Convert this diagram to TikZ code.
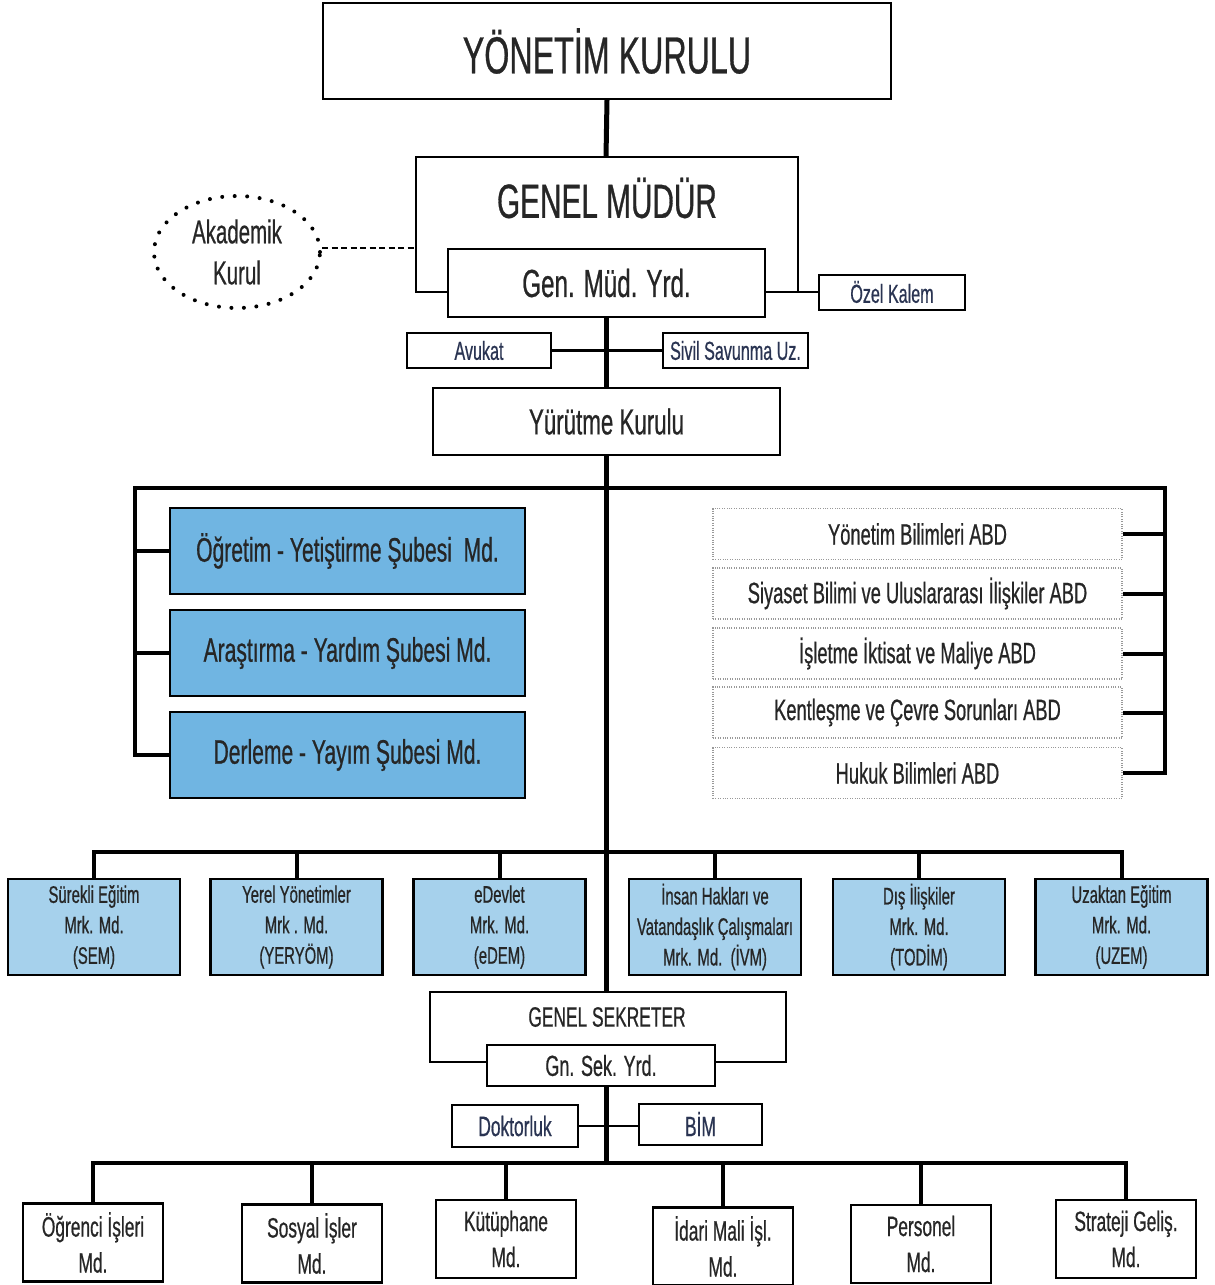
\documentclass[tikz,border=0pt]{standalone}
\usepackage{fontspec}
\setmainfont{Liberation Sans}[FakeStretch=0.62,FakeBold=0.6]
\usetikzlibrary{shapes.geometric}
\definecolor{bluedark}{RGB}{112,181,226}
\definecolor{bluelight}{RGB}{166,209,236}
\definecolor{txt}{RGB}{38,38,38}
\definecolor{navy}{RGB}{42,52,82}
\begin{document}
\begin{tikzpicture}[x=1pt,y=-1pt,
  box/.style={draw=black, line width=2pt, fill=white, inner sep=0pt, text=txt, align=center},
  small/.style={box, text=navy, font=\fontsize{26}{30}\selectfont},
  bluebox/.style={box, fill=bluedark, line width=2.2pt, font=\fontsize{34}{40}\selectfont, minimum width=355pt, minimum height=86pt},
  abd/.style={draw=gray!80, line width=1.1pt, dash pattern=on 1pt off 1.4pt, inner sep=0pt, text=txt, font=\fontsize{29.5}{34}\selectfont, minimum width=409pt, minimum height=51pt},
  midbox/.style={box, fill=bluelight, line width=2.4pt, font=\fontsize{24}{30.5}\selectfont, minimum width=172pt, minimum height=96pt},
  lowbox/.style={box, line width=2.4pt, font=\fontsize{28}{36}\selectfont, minimum width=140pt, minimum height=78pt},
  trunk/.style={line width=5pt},
  bus/.style={line width=4pt},
  link/.style={line width=2.5pt}]
\useasboundingbox (0,0) rectangle (1215,1285);

% top
\node[box, minimum width=568pt, minimum height=96pt, font=\fontsize{52}{60}\selectfont] (yk) at (607,51) {YÖNETİM KURULU};
\node[text=txt, font=\fontsize{48}{56}\selectfont] (gm) at (607,198) {GENEL MÜDÜR};
\node[box, minimum width=317pt, minimum height=68pt, font=\fontsize{39}{44}\selectfont] (gmy) at (606.5,283) {Gen. Müd. Yrd.};
\node[small, minimum width=146pt, minimum height=35pt] (ozel) at (892,292) {Özel Kalem};
\node[ellipse, draw=black, line width=4pt, line cap=round, dash pattern=on 0pt off 12.5pt, minimum width=166pt, minimum height=112pt, text=txt, align=center, font=\fontsize{33}{41}\selectfont] (ak) at (237,252) {Akademik\\Kurul};
\node[small, minimum width=144pt, minimum height=35pt] (avukat) at (479,350.5) {Avukat};
\node[small, minimum width=145pt, minimum height=35pt] (sivil) at (735.5,350.5) {Sivil Savunma Uz.};
\node[box, minimum width=347pt, minimum height=67pt, font=\fontsize{36}{42}\selectfont] (yur) at (606.5,421.5) {Yürütme Kurulu};

\coordinate (g1) at (0,292);
\coordinate (gmtop) at (606,157);
\coordinate (dl) at (0,248);
\draw[trunk] (yk.south) -- (gmtop);
\draw[link] (gmy.west |- g1) -- (416,292) -- (416,157) -- (798,157) -- (798,292) -- (gmy.east |- g1);
\draw[link] (798,292) -- (ozel.west);
\draw[link, dash pattern=on 6pt off 3.5pt] (ak.east |- dl) -- (416,248);
\draw[trunk] (gmy.south -| gmtop) -- (yur.north -| gmtop);
\draw[link] (avukat.east) -- (sivil.west);

% left blue boxes
\node[bluebox] (b1) at (347.5,551) {Öğretim - Yetiştirme Şubesi\ \ Md.};
\node[bluebox] (b2) at (347.5,653) {Araştırma - Yardım Şubesi Md.};
\node[bluebox] (b3) at (347.5,755) {Derleme - Yayım Şubesi Md.};
% right ABD boxes
\node[abd] (a1) at (917.5,534) {Yönetim Bilimleri ABD};
\node[abd] (a2) at (917.5,593.5) {Siyaset Bilimi ve Uluslararası İlişkiler ABD};
\node[abd] (a3) at (917.5,653.5) {İşletme İktisat ve Maliye ABD};
\node[abd] (a4) at (917.5,712.5) {Kentleşme ve Çevre Sorunları ABD};
\node[abd] (a5) at (917.5,773) {Hukuk Bilimleri ABD};

\coordinate (bl) at (135,488);
\coordinate (br) at (1165,488);
\draw[bus] (b3.west) -| (bl) -- (br) |- (a5.east);
\draw[bus] (b1.west) -- (b1.west -| bl);
\draw[bus] (b2.west) -- (b2.west -| bl);
\draw[bus] (a1.east) -- (a1.east -| br);
\draw[bus] (a2.east) -- (a2.east -| br);
\draw[bus] (a3.east) -- (a3.east -| br);
\draw[bus] (a4.east) -- (a4.east -| br);

% middle row
\node[midbox] (m1) at (94,927) {Sürekli Eğitim\\Mrk. Md.\\(SEM)};
\node[midbox] (m2) at (296.5,927) {Yerel Yönetimler\\Mrk . Md.\\(YERYÖM)};
\node[midbox] (m3) at (499.5,927) {eDevlet\\Mrk. Md.\\(eDEM)};
\node[midbox] (m4) at (715,927) {İnsan Hakları ve\\Vatandaşlık Çalışmaları\\Mrk. Md.\ \ (İVM)};
\node[midbox] (m5) at (919,927) {Dış İlişkiler\\Mrk. Md.\\(TODİM)};
\node[midbox] (m6) at (1121.5,927) {Uzaktan Eğitim\\Mrk. Md.\\(UZEM)};
\coordinate (bm) at (606,852);
\draw[bus] (m1.north) -- (m1.north |- bm) -- (m6.north |- bm) -- (m6.north);
\foreach \n in {m2,m3,m4,m5} \draw[bus] (\n.north) -- (\n.north |- bm);

% genel sekreter
\node[text=txt, font=\fontsize{28}{34}\selectfont] (gs) at (607,1017) {GENEL SEKRETER};
\node[box, minimum width=228pt, minimum height=41pt, font=\fontsize{29}{34}\selectfont] (gsy) at (601,1065.5) {Gn. Sek. Yrd.};
\coordinate (g2) at (0,1062);
\coordinate (gstop) at (606,992);
\draw[trunk] (yur.south -| gstop) -- (gstop);
\draw[link] (gsy.west |- g2) -- (430,1062) -- (430,992) -- (786,992) -- (786,1062) -- (gsy.east |- g2);
\node[small, minimum width=126pt, minimum height=42pt, font=\fontsize{28}{32}\selectfont] (dok) at (515,1126) {Doktorluk};
\node[small, minimum width=123pt, minimum height=41pt, font=\fontsize{28}{32}\selectfont] (bim) at (700.5,1124) {BİM};
\draw[link] (dok.east) -- (bim.west |- dok.east);

% bottom row
\coordinate (bb) at (606,1163);
\draw[trunk] (gsy.south -| gstop) -- (bb);
\node[lowbox] (o1) at (93,1242.5) {Öğrenci İşleri\\Md.};
\node[lowbox] (o2) at (312,1243.5) {Sosyal İşler\\Md.};
\node[lowbox] (o3) at (506,1239) {Kütüphane\\Md.};
\node[lowbox] (o4) at (723,1246.5) {İdari Mali İşl.\\Md.};
\node[lowbox] (o5) at (921,1244) {Personel\\Md.};
\node[lowbox] (o6) at (1126,1239) {Strateji Geliş.\\Md.};
\draw[bus] (o1.north) -- (o1.north |- bb) -- (o6.north |- bb) -- (o6.north);
\foreach \n in {o2,o3,o4,o5} \draw[bus] (\n.north) -- (\n.north |- bb);
\end{tikzpicture}
\end{document}
